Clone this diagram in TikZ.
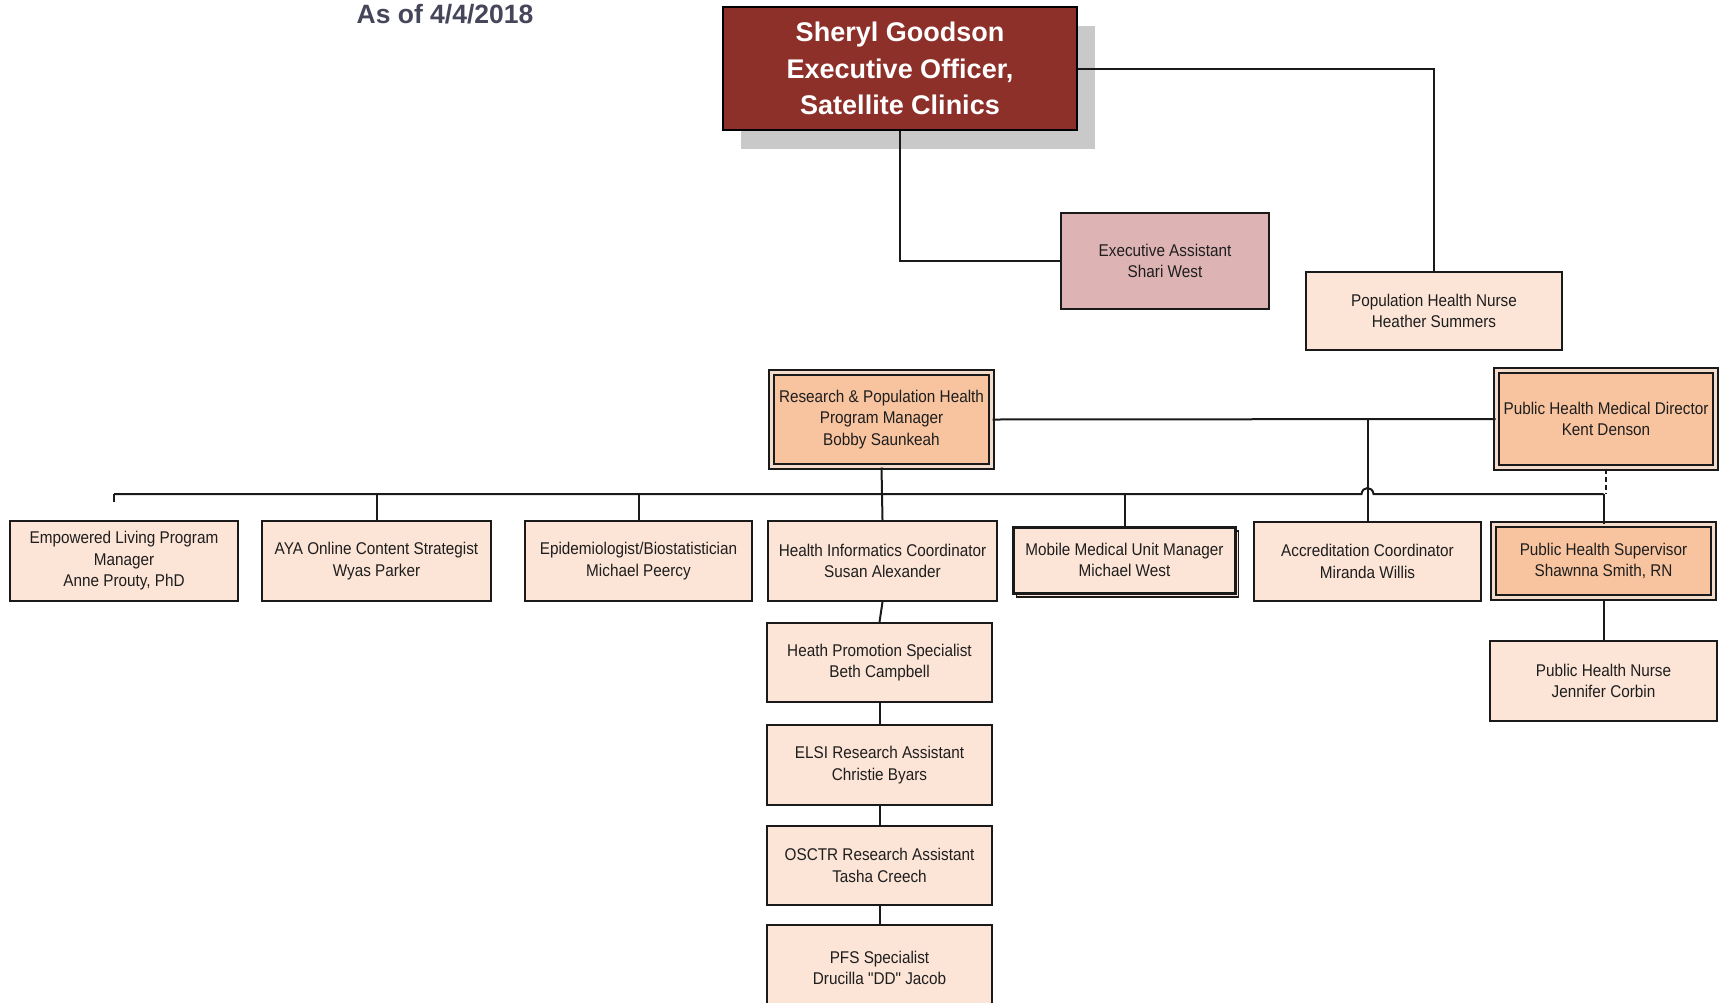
\documentclass[tikz,border=0pt]{standalone}
\usepackage{fontspec}
\setmainfont{Liberation Sans}
\newfontfamily\narrowf[FakeStretch=0.9]{Liberation Sans}
\usetikzlibrary{shadows,calc}
\definecolor{lightbox}{HTML}{FCE4D6}
\definecolor{orangebox}{HTML}{F8C49F}
\definecolor{orangegap}{HTML}{F3DCCB}
\definecolor{pinkbox}{HTML}{DEB3B3}
\definecolor{execred}{HTML}{8E302A}
\definecolor{shadowgray}{HTML}{C9C9C9}
\definecolor{titlegray}{HTML}{46465A}
\definecolor{txt}{HTML}{1E1E1E}
\definecolor{linec}{HTML}{1A1A1A}
\tikzset{
  box/.style={draw=linec, line width=2pt, fill=lightbox, inner sep=0pt,
    align=center, text=txt, font=\narrowf\fontsize{17}{21.5}\selectfont},
  dbox/.style={box, fill=orangebox, line width=2pt, double=orangegap, double distance=2.2pt},
  conn/.style={draw=linec, line width=2pt},
  execbox/.style={draw=black, line width=2.8pt, fill=execred, inner sep=0pt,
    align=center, text=white, font=\bfseries\fontsize{27}{36.7}\selectfont,
    drop shadow={shadow xshift=18pt, shadow yshift=-19pt, fill=shadowgray, opacity=1, draw=none}},
  titletext/.style={text=titlegray, font=\bfseries\fontsize{26.5}{30}\selectfont, inner sep=0pt}
}
\begin{document}
\begin{tikzpicture}[x=1pt,y=-1pt]
\useasboundingbox (0,0) rectangle (1727,1002);
\fill[white] (0,0) rectangle (1727,1002);

\node[titletext, anchor=base] (asof) at (445,23) {As of 4/4/2018};

\node[execbox, minimum width=354pt, minimum height=123pt] (top) at (900,68.5)
  {Sheryl Goodson\\Executive Officer,\\Satellite Clinics};

\node[box, fill=pinkbox, minimum width=208pt, minimum height=96pt] (ea) at (1165,261)
  {Executive Assistant\\Shari West};
\node[box, minimum width=256pt, minimum height=78pt] (popn) at (1434,311)
  {Population Health Nurse\\Heather Summers};

\node[dbox, minimum width=220pt, minimum height=94pt] (rp) at (881.5,419.5)
  {Research \& Population Health\\Program Manager\\Bobby Saunkeah};
\node[dbox, minimum width=219pt, minimum height=97pt] (phmd) at (1606,419)
  {Public Health Medical Director\\Kent Denson};

\node[box, minimum width=228pt, minimum height=80pt] (emp) at (124,561)
  {Empowered Living Program\\Manager\\Anne Prouty, PhD};
\node[box, minimum width=229pt, minimum height=80pt] (aya) at (376.5,561)
  {AYA Online Content Strategist\\Wyas Parker};
\node[box, minimum width=227pt, minimum height=80pt] (epi) at (638.5,561)
  {Epidemiologist/Biostatistician\\Michael Peercy};
\node[box, minimum width=229pt, minimum height=80pt] (hi) at (882.5,561)
  {Health Informatics Coordinator\\Susan Alexander};
\node[box, line width=3pt, minimum width=222pt, minimum height=66pt,
  copy shadow={shadow xshift=3pt, shadow yshift=-4pt, draw=linec, line width=1.3pt, fill=lightbox}] (mmu) at (1124.5,560)
  {Mobile Medical Unit Manager\\Michael West};
\node[box, minimum width=227pt, minimum height=79pt] (acc) at (1367.5,561.5)
  {Accreditation Coordinator\\Miranda Willis};
\node[dbox, minimum width=220pt, minimum height=73pt] (phs) at (1603.5,561)
  {Public Health Supervisor\\Shawnna Smith, RN};

\node[box, minimum width=225pt, minimum height=79pt] (hp) at (879.5,662.5)
  {Heath Promotion Specialist\\Beth Campbell};
\node[box, minimum width=225pt, minimum height=80pt] (elsi) at (879.5,765)
  {ELSI Research Assistant\\Christie Byars};
\node[box, minimum width=225pt, minimum height=79pt] (osctr) at (879.5,865.5)
  {OSCTR Research Assistant\\Tasha Creech};
\node[box, minimum width=225pt, minimum height=86pt] (pfs) at (879.5,968)
  {PFS Specialist\\Drucilla "DD" Jacob};
\node[box, minimum width=227pt, minimum height=80pt] (phn) at (1603.5,681)
  {Public Health Nurse\\Jennifer Corbin};

% connectors
\draw[conn] (top.east) -| (popn.north);
\draw[conn] (top.south) |- (ea.west);
\draw[conn] (rp.east) -- (phmd.west);
\coordinate (busL) at (114,494);
\coordinate (busR) at (phs.north |- busL);
\coordinate (hopC) at (acc.north |- busL);
\coordinate (hopL) at ($(hopC)+(-6,0)$);
\coordinate (hopR) at ($(hopC)+(6,0)$);
\draw[conn] (busL) -- (hopL) .. controls ($(hopL)+(1,-8)$) and ($(hopR)+(-1,-8)$) .. (hopR) -- (busR);
\draw[conn] (acc.north |- rp.east) -- (acc.north);
\coordinate (empStub) at (114,502);
\draw[conn] (busL) -- (empStub);
\draw[conn] (aya.north |- busL) -- (aya.north);
\draw[conn] (epi.north |- busL) -- (epi.north);
\draw[conn] (rp.south) -- (hi.north);
\draw[conn] (mmu.north |- busL) -- (mmu.north);
\draw[conn, line width=1.5pt, dash pattern=on 5pt off 3pt] (phmd.south) -- (phmd.south |- busL);
\draw[conn] (busR) -- (phs.north);
\draw[conn] (hi.south) -- (hp.north);
\draw[conn] (hp.south) -- (elsi.north);
\draw[conn] (elsi.south) -- (osctr.north);
\draw[conn] (osctr.south) -- (pfs.north);
\draw[conn] (phs.south) -- (phn.north);
\end{tikzpicture}
\end{document}
